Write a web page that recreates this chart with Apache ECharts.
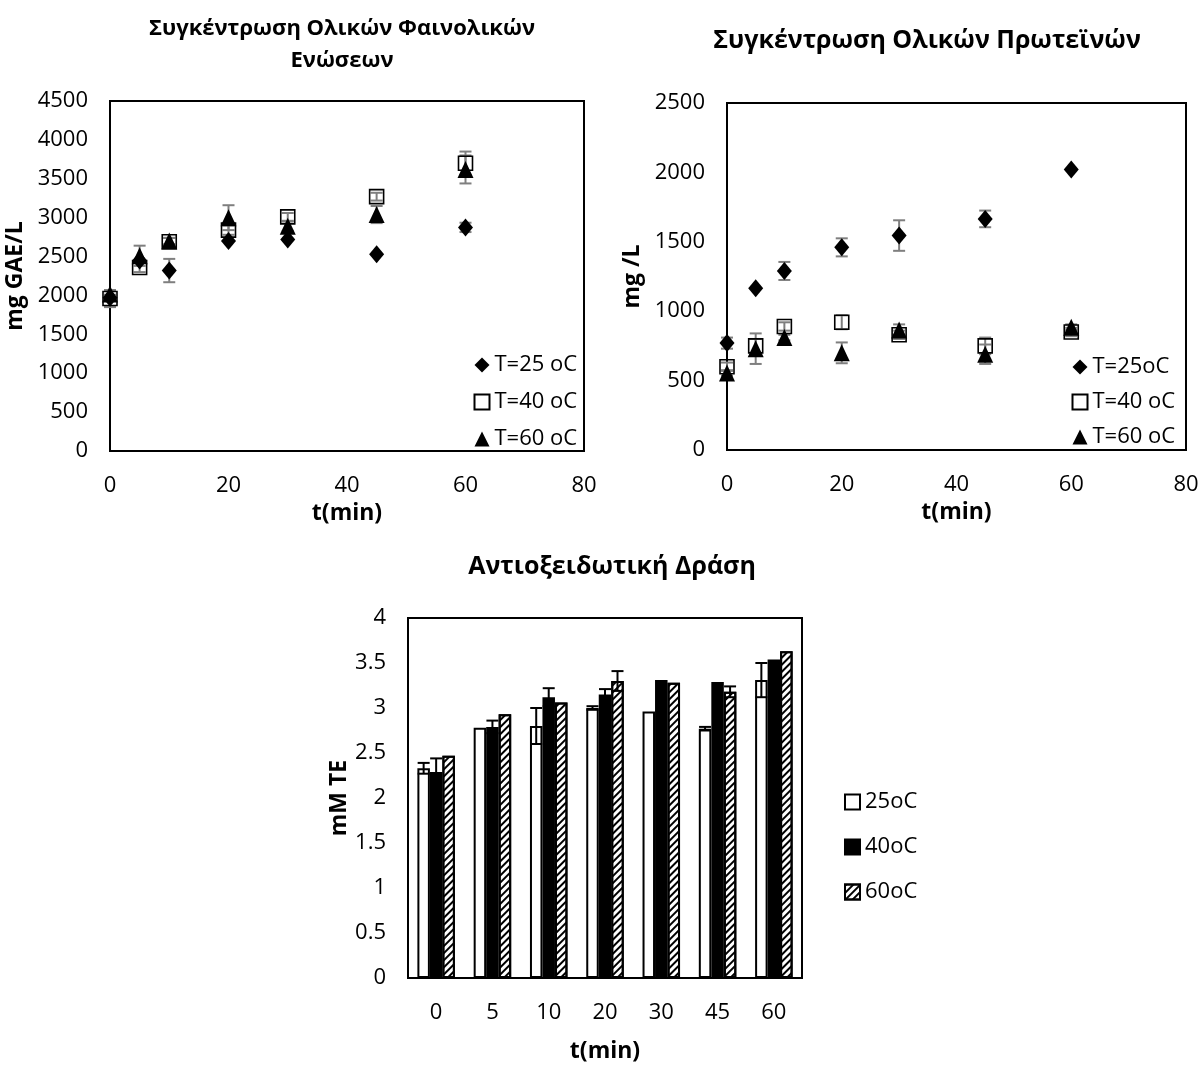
<!DOCTYPE html>
<html>
<head>
<meta charset="utf-8">
<script src="https://cdn.jsdelivr.net/npm/echarts@6/dist/echarts.min.js"></script>
<style>
  body { margin: 0; background: #fff; }
  .box { position: absolute; }
  #c1 { left: 0; top: 0; width: 602px; height: 540px; }
  #c2 { left: 602px; top: 0; width: 602px; height: 540px; }
  #c3 { left: 0; top: 540px; width: 1204px; height: 526px; }
</style>
</head>
<body>
<div id="c1" class="box"></div>
<div id="c2" class="box"></div>
<div id="c3" class="box"></div>
<script>
// χρόνοι δειγματοληψίας (min)
var times = [0, 5, 10, 20, 30, 45, 60];
var timeLabels = ['0', '5', '10', '20', '30', '45', '60'];

// ολικά φαινολικά (mg GAE/L)
var phenol25 = [1970, 2450, 2320, 2700, 2720, 2530, 2875];
var phenol25Err = [40, 0, 150, 0, 0, 0, 60];
var phenol40 = [1960, 2360, 2690, 2840, 3010, 3270, 3700];
var phenol40Err = [110, 60, 50, 60, 50, 50, 150];
var phenol60 = [2020, 2510, 2700, 3000, 2890, 3040, 3620];
var phenol60Err = [50, 130, 40, 160, 60, 110, 180];

// ολικές πρωτεΐνες (mg/L)
var protein25 = [770, 1165, 1290, 1460, 1545, 1665, 2020];
var protein25Err = [40, 0, 65, 65, 110, 60, 0];
var protein40 = [600, 750, 890, 920, 830, 750, 850];
var protein40Err = [30, 50, 30, 50, 30, 60, 30];
var protein60 = [555, 730, 810, 700, 865, 690, 885];
var protein60Err = [20, 110, 20, 75, 40, 70, 20];

// αντιοξειδωτική δράση (mM TE)
var anti25 = [2.33, 2.78, 2.80, 3.00, 2.96, 2.77, 3.31];
var anti25Err = [0.06, 0, 0.2, 0.02, 0, 0.02, 0.19];
var anti40 = [2.29, 2.79, 3.12, 3.15, 3.31, 3.29, 3.54];
var anti40Err = [0.15, 0.07, 0.1, 0.06, 0, 0, 0];
var anti60 = [2.47, 2.93, 3.06, 3.30, 3.28, 3.18, 3.63];
var anti60Err = [0, 0, 0, 0.11, 0, 0.06, 0];

var FONT = 'Open Sans';
var BW = 12.5; // πλάτος μπάρας

function pairs(xs, ys) {
  return xs.map(function (x, i) { return [x, ys[i]]; });
}
function triples(xs, ys, es) {
  return xs.map(function (x, i) { return [x, ys[i], es[i]]; });
}

// error bars με custom series
function errorBars(data, color, cap, offset, z) {
  return {
    type: 'custom',
    silent: true,
    z: z,
    data: data,
    encode: { x: 0, y: 1 },
    renderItem: function (params, api) {
      var e = api.value(2);
      if (!e) return null;
      var hi = api.coord([api.value(0), api.value(1) + e]);
      var lo = api.coord([api.value(0), api.value(1) - e]);
      var x = hi[0] + offset;
      var st = { stroke: color, lineWidth: 2 };
      return {
        type: 'group',
        children: [
          { type: 'line', shape: { x1: x, y1: hi[1], x2: x, y2: lo[1] }, style: st },
          { type: 'line', shape: { x1: x - cap, y1: hi[1], x2: x + cap, y2: hi[1] }, style: st },
          { type: 'line', shape: { x1: x - cap, y1: lo[1], x2: x + cap, y2: lo[1] }, style: st }
        ]
      };
    }
  };
}

function titleText(x, y, text, size) {
  return {
    type: 'text', x: x, y: y,
    style: { text: text, textAlign: 'center', textVerticalAlign: 'middle',
      font: 'bold ' + size + 'px "' + FONT + '"', fill: '#000', lineHeight: 32 }
  };
}

var nameStyle = { fontFamily: FONT, fontWeight: 'bold', fontSize: 23, color: '#000' };
var tickStyle = { fontFamily: FONT, fontSize: 22, color: '#000' };

function valueX(name) {
  return {
    type: 'value', min: 0, max: 80, interval: 20,
    name: name, nameLocation: 'middle', nameGap: 45,
    nameTextStyle: nameStyle,
    axisLine: { lineStyle: { color: '#000', width: 2 } },
    axisTick: { show: false },
    splitLine: { show: false },
    axisLabel: Object.assign({ margin: 24 }, tickStyle)
  };
}

function valueY(name, max, interval, gap) {
  return {
    type: 'value', min: 0, max: max, interval: interval,
    name: name, nameLocation: 'middle', nameGap: gap,
    nameTextStyle: nameStyle,
    axisLine: { show: true, lineStyle: { color: '#000', width: 2 } },
    axisTick: { show: false },
    splitLine: { show: false },
    axisLabel: Object.assign({ margin: 22, formatter: function (v) { return String(v); } }, tickStyle)
  };
}

function scatterSeries(name, data, symbol, size, fill) {
  return {
    name: name, type: 'scatter', data: data, z: 5,
    symbol: symbol, symbolSize: size,
    itemStyle: { color: fill, borderColor: '#000', borderWidth: fill === 'none' ? 1.6 : 0, opacity: 1 }
  };
}

function legendBox(left, top, gap, names, icon) {
  var lg = {
    orient: 'vertical', left: left, top: top, itemGap: gap, padding: 0,
    itemWidth: 15, itemHeight: 15, selectedMode: false,
    data: names,
    textStyle: { fontFamily: FONT, fontSize: 22, color: '#000', lineHeight: 22 }
  };
  if (icon) lg.icon = icon;
  return lg;
}

// 1. φαινολικά
var chart1 = echarts.init(document.getElementById('c1'));
chart1.setOption({
  animation: false,
  grid: { left: 110, top: 101, width: 474, height: 350, show: true, borderColor: '#000', borderWidth: 2, outerBoundsMode: 'none' },
  graphic: [titleText(342, 45, 'Συγκέντρωση Ολικών Φαινολικών\nΕνώσεων', 22)],
  legend: legendBox(472, 354, 15, ['T=25 oC', 'T=40 oC', 'T=60 oC']),
  xAxis: valueX('t(min)'),
  yAxis: valueY('mg GAE/L', 4500, 500, 78),
  series: [
    errorBars(triples(times, phenol25, phenol25Err), '#7f7f7f', 6, 0, 2),
    errorBars(triples(times, phenol40, phenol40Err), '#7f7f7f', 6, 0, 2),
    errorBars(triples(times, phenol60, phenol60Err), '#7f7f7f', 6, 0, 2),
    scatterSeries('T=25 oC', pairs(times, phenol25), 'diamond', [15, 18], '#000'),
    scatterSeries('T=40 oC', pairs(times, phenol40), 'rect', [14, 14], 'none'),
    scatterSeries('T=60 oC', pairs(times, phenol60), 'triangle', [16, 17], '#000')
  ]
});

// 2. πρωτεΐνες
var chart2 = echarts.init(document.getElementById('c2'));
chart2.setOption({
  animation: false,
  grid: { left: 125, top: 103, width: 459, height: 347, show: true, borderColor: '#000', borderWidth: 2, outerBoundsMode: 'none' },
  graphic: [titleText(325, 41, 'Συγκέντρωση Ολικών Πρωτεϊνών', 25)],
  legend: legendBox(468, 356, 13, ['T=25oC', 'T=40 oC', 'T=60 oC']),
  xAxis: valueX('t(min)'),
  yAxis: valueY('mg /L', 2500, 500, 79),
  series: [
    errorBars(triples(times, protein25, protein25Err), '#7f7f7f', 6, 0, 2),
    errorBars(triples(times, protein40, protein40Err), '#7f7f7f', 6, 0, 2),
    errorBars(triples(times, protein60, protein60Err), '#7f7f7f', 6, 0, 2),
    scatterSeries('T=25oC', pairs(times, protein25), 'diamond', [15, 18], '#000'),
    scatterSeries('T=40 oC', pairs(times, protein40), 'rect', [14, 14], 'none'),
    scatterSeries('T=60 oC', pairs(times, protein60), 'triangle', [16, 17], '#000')
  ]
});

// 3. αντιοξειδωτική δράση
var hatch = {
  symbol: 'rect', symbolSize: 1,
  dashArrayX: [1, 0], dashArrayY: [2, 2.5],
  rotation: -Math.PI / 4, color: '#000'
};
function barSeries(name, values, fill, decal) {
  var s = {
    name: name, type: 'bar', data: values, barWidth: BW, barGap: '0%', z: 2,
    itemStyle: { color: fill, borderColor: '#000', borderWidth: 2 }
  };
  if (decal) s.itemStyle.decal = decal;
  return s;
}
var chart3 = echarts.init(document.getElementById('c3'));
chart3.setOption({
  animation: false,
  grid: { left: 408, top: 78, width: 394, height: 360, show: true, borderColor: '#000', borderWidth: 2, outerBoundsMode: 'none' },
  graphic: [titleText(612, 27, 'Αντιοξειδωτική Δράση', 25)],
  legend: legendBox(844, 251, 23, ['25oC', '40oC', '60oC'], 'rect'),
  xAxis: {
    type: 'category', data: timeLabels,
    name: 't(min)', nameLocation: 'middle', nameGap: 62,
    nameTextStyle: nameStyle,
    axisLine: { lineStyle: { color: '#000', width: 2 } },
    axisTick: { show: false },
    axisLabel: Object.assign({ margin: 24 }, tickStyle)
  },
  yAxis: valueY('mM TE', 4, 0.5, 56),
  series: [
    barSeries('25oC', anti25, '#fff'),
    barSeries('40oC', anti40, '#000'),
    barSeries('60oC', anti60, '#fff', hatch),
    errorBars(triples([0, 1, 2, 3, 4, 5, 6], anti25, anti25Err), '#000', 6, -BW, 5),
    errorBars(triples([0, 1, 2, 3, 4, 5, 6], anti40, anti40Err), '#000', 6, 0, 5),
    errorBars(triples([0, 1, 2, 3, 4, 5, 6], anti60, anti60Err), '#000', 6, BW, 5)
  ]
});
</script>
</body>
</html>
